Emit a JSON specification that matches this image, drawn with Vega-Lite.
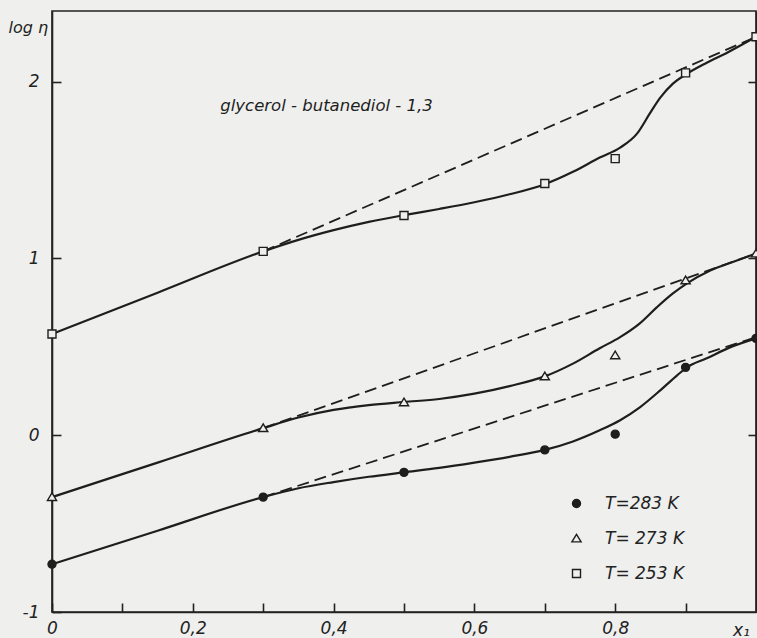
{
  "$schema": "https://vega.github.io/schema/vega-lite/v6.json",
  "width": 704,
  "height": 601,
  "autosize": {"type": "none"},
  "padding": {"left": 52, "top": 11, "right": 1, "bottom": 26},
  "background": "#efefed",
  "config": {
    "view": {"stroke": "#222", "strokeWidth": 1.6},
    "axis": {
      "domainColor": "#222", "domainWidth": 1.6, "tickColor": "#222", "tickWidth": 1.6,
      "labelFont": "DejaVu Sans", "labelFontStyle": "italic", "labelFontSize": 17, "labelColor": "#222",
      "grid": false, "labelOverlap": false, "labelFlush": false, "labelBound": false,
      "titleFont": "DejaVu Sans", "titleFontStyle": "italic", "titleFontWeight": "normal", "titleColor": "#222", "titleFontSize": 16
    },
    "legend": {
      "orient": "none", "legendX": 516, "legendY": 484, "padding": 0,
      "labelFont": "DejaVu Sans", "labelFontStyle": "italic", "labelFontSize": 17, "labelColor": "#222",
      "symbolStrokeColor": "#1e1e1e", "symbolStrokeWidth": 1.4, "symbolSize": 64, "labelOffset": 20, "rowPadding": 17
    }
  },
  "datasets": {
    "points": [
      {"x": 0, "y": 0.573, "T": "T= 253 K"}, {"x": 0.3, "y": 1.04, "T": "T= 253 K"}, {"x": 0.5, "y": 1.243, "T": "T= 253 K"}, {"x": 0.7, "y": 1.424, "T": "T= 253 K"}, {"x": 0.8, "y": 1.565, "T": "T= 253 K"}, {"x": 0.9, "y": 2.05, "T": "T= 253 K"}, {"x": 1, "y": 2.254, "T": "T= 253 K"},
      {"x": 0, "y": -0.35, "T": "T= 273 K"}, {"x": 0.3, "y": 0.04, "T": "T= 273 K"}, {"x": 0.5, "y": 0.186, "T": "T= 273 K"}, {"x": 0.7, "y": 0.333, "T": "T= 273 K"}, {"x": 0.8, "y": 0.452, "T": "T= 273 K"}, {"x": 0.9, "y": 0.876, "T": "T= 273 K"}, {"x": 1, "y": 1.028, "T": "T= 273 K"},
      {"x": 0, "y": -0.73, "T": "T=283 K"}, {"x": 0.3, "y": -0.35, "T": "T=283 K"}, {"x": 0.5, "y": -0.21, "T": "T=283 K"}, {"x": 0.7, "y": -0.083, "T": "T=283 K"}, {"x": 0.8, "y": 0.006, "T": "T=283 K"}, {"x": 0.9, "y": 0.384, "T": "T=283 K"}, {"x": 1, "y": 0.548, "T": "T=283 K"}
    ],
    "curves": [
      {"x": 0, "y": 0.573, "T": "253"}, {"x": 0.15, "y": 0.8065, "T": "253"}, {"x": 0.3, "y": 1.04, "T": "253"}, {"x": 0.35, "y": 1.105, "T": "253"}, {"x": 0.4, "y": 1.16, "T": "253"}, {"x": 0.45, "y": 1.207, "T": "253"}, {"x": 0.5, "y": 1.245, "T": "253"}, {"x": 0.55, "y": 1.28, "T": "253"}, {"x": 0.6, "y": 1.318, "T": "253"}, {"x": 0.65, "y": 1.363, "T": "253"}, {"x": 0.7, "y": 1.42, "T": "253"}, {"x": 0.74, "y": 1.49, "T": "253"}, {"x": 0.778, "y": 1.571, "T": "253"}, {"x": 0.807, "y": 1.627, "T": "253"}, {"x": 0.831, "y": 1.706, "T": "253"}, {"x": 0.849, "y": 1.819, "T": "253"}, {"x": 0.864, "y": 1.91, "T": "253"}, {"x": 0.882, "y": 1.989, "T": "253"}, {"x": 0.902, "y": 2.045, "T": "253"}, {"x": 0.93, "y": 2.107, "T": "253"}, {"x": 0.959, "y": 2.164, "T": "253"}, {"x": 1, "y": 2.254, "T": "253"},
      {"x": 0, "y": -0.35, "T": "273"}, {"x": 0.15, "y": -0.155, "T": "273"}, {"x": 0.3, "y": 0.04, "T": "273"}, {"x": 0.35, "y": 0.1, "T": "273"}, {"x": 0.4, "y": 0.143, "T": "273"}, {"x": 0.45, "y": 0.17, "T": "273"}, {"x": 0.5, "y": 0.188, "T": "273"}, {"x": 0.55, "y": 0.205, "T": "273"}, {"x": 0.6, "y": 0.235, "T": "273"}, {"x": 0.65, "y": 0.278, "T": "273"}, {"x": 0.7, "y": 0.333, "T": "273"}, {"x": 0.74, "y": 0.405, "T": "273"}, {"x": 0.778, "y": 0.492, "T": "273"}, {"x": 0.807, "y": 0.555, "T": "273"}, {"x": 0.835, "y": 0.633, "T": "273"}, {"x": 0.859, "y": 0.723, "T": "273"}, {"x": 0.882, "y": 0.802, "T": "273"}, {"x": 0.902, "y": 0.859, "T": "273"}, {"x": 0.935, "y": 0.932, "T": "273"}, {"x": 0.967, "y": 0.98, "T": "273"}, {"x": 1, "y": 1.028, "T": "273"},
      {"x": 0, "y": -0.73, "T": "283"}, {"x": 0.15, "y": -0.54, "T": "283"}, {"x": 0.3, "y": -0.35, "T": "283"}, {"x": 0.35, "y": -0.3, "T": "283"}, {"x": 0.4, "y": -0.265, "T": "283"}, {"x": 0.45, "y": -0.235, "T": "283"}, {"x": 0.5, "y": -0.21, "T": "283"}, {"x": 0.55, "y": -0.185, "T": "283"}, {"x": 0.6, "y": -0.155, "T": "283"}, {"x": 0.65, "y": -0.122, "T": "283"}, {"x": 0.7, "y": -0.083, "T": "283"}, {"x": 0.74, "y": -0.035, "T": "283"}, {"x": 0.778, "y": 0.028, "T": "283"}, {"x": 0.807, "y": 0.085, "T": "283"}, {"x": 0.835, "y": 0.158, "T": "283"}, {"x": 0.864, "y": 0.254, "T": "283"}, {"x": 0.888, "y": 0.339, "T": "283"}, {"x": 0.902, "y": 0.384, "T": "283"}, {"x": 0.93, "y": 0.435, "T": "283"}, {"x": 0.963, "y": 0.497, "T": "283"}, {"x": 1, "y": 0.548, "T": "283"}
    ],
    "dashed": [
      {"x": 0.3, "y": 1.04, "T": "253"}, {"x": 1, "y": 2.254, "T": "253"},
      {"x": 0.3, "y": 0.04, "T": "273"}, {"x": 1, "y": 1.028, "T": "273"},
      {"x": 0.3, "y": -0.35, "T": "283"}, {"x": 1, "y": 0.555, "T": "283"}
    ],
    "notes": [
      {"x": 0.239, "y": 1.86, "label": "glycerol - butanediol - 1,3"}
    ]
  },
  "resolve": {"axis": {"y": "independent"}},
  "layer": [
    {
      "data": {"name": "curves"},
      "mark": {"type": "line", "interpolate": "monotone", "stroke": "#1e1e1e", "strokeWidth": 2.2},
      "encoding": {
        "x": {
          "field": "x", "type": "quantitative",
          "scale": {"domain": [0, 1], "nice": false, "zero": false},
          "axis": {
            "values": [0, 0.1, 0.2, 0.3, 0.4, 0.5, 0.6, 0.7, 0.8, 0.9],
            "labelExpr": "datum.value < 0.001 ? '0' : (round(datum.value * 10) % 2 == 0 ? replace(format(datum.value, '.1f'), '.', ',') : '')",
            "tickSize": -9, "labelPadding": 17,
            "title": "x₁", "titleX": 689, "titleY": 18, "titleAlign": "center", "titleBaseline": "middle", "titleAngle": 0, "titleFontSize": 17
          }
        },
        "y": {
          "field": "y", "type": "quantitative",
          "scale": {"domain": [-1, 2.4], "nice": false, "zero": false},
          "axis": {
            "orient": "left",
            "values": [-1, 0, 1, 2],
            "labelExpr": "'' + datum.value",
            "tickSize": -9, "labelPadding": 22,
            "title": "log η", "titleAngle": 0, "titleX": -44, "titleY": 16, "titleAlign": "left", "titleBaseline": "middle"
          }
        },
        "detail": {"field": "T"}
      }
    },
    {
      "data": {"name": "dashed"},
      "mark": {"type": "line", "stroke": "#1e1e1e", "strokeWidth": 1.8, "strokeDash": [12, 6]},
      "encoding": {
        "x": {"field": "x", "type": "quantitative"},
        "y": {
          "field": "y", "type": "quantitative",
          "axis": {"orient": "right", "values": [0, 1, 2], "labels": false, "tickSize": -8, "title": null}
        },
        "detail": {"field": "T"}
      }
    },
    {
      "data": {"name": "points"},
      "mark": {"type": "point", "strokeWidth": 1.4, "opacity": 1, "size": 64},
      "encoding": {
        "x": {"field": "x", "type": "quantitative"},
        "y": {"field": "y", "type": "quantitative", "axis": null},
        "stroke": {
          "field": "T", "type": "nominal",
          "scale": {"domain": ["T=283 K", "T= 273 K", "T= 253 K"], "range": ["#1e1e1e", "#1e1e1e", "#1e1e1e"]},
          "legend": {"title": null}
        },
        "shape": {
          "field": "T", "type": "nominal",
          "scale": {"domain": ["T=283 K", "T= 273 K", "T= 253 K"], "range": ["circle", "M0,-1.05L1.15,0.85L-1.15,0.85Z", "square"]},
          "legend": {"title": null}
        },
        "fill": {
          "field": "T", "type": "nominal",
          "scale": {"domain": ["T=283 K", "T= 273 K", "T= 253 K"], "range": ["#1e1e1e", "#efefed", "#efefed"]},
          "legend": {"title": null}
        }
      }
    },
    {
      "data": {"name": "notes"},
      "mark": {"type": "text", "align": "left", "baseline": "middle", "font": "DejaVu Sans", "fontStyle": "italic", "fontSize": 16.5, "color": "#1e1e1e"},
      "encoding": {
        "x": {"field": "x", "type": "quantitative"},
        "y": {"field": "y", "type": "quantitative", "axis": null},
        "text": {"field": "label"}
      }
    }
  ]
}
